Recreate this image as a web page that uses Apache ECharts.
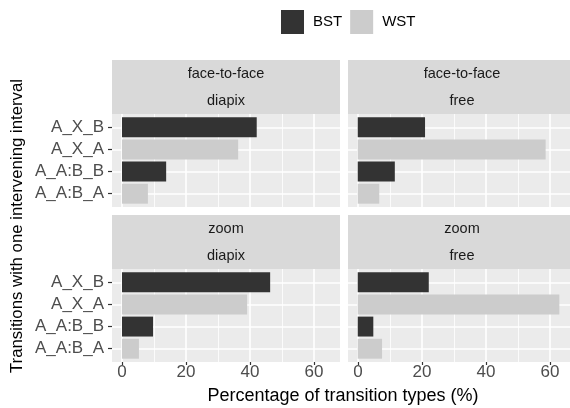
<!DOCTYPE html>
<html>
<head>
<meta charset="utf-8">
<script src="https://cdn.jsdelivr.net/npm/echarts@6/dist/echarts.min.js"></script>
<style>
html,body{margin:0;padding:0;background:#fff;}
#chart{width:570px;height:408px;}
</style>
</head>
<body>
<div id="chart"></div>
<script>
// ---- data ----
const categories = ['A_X_B', 'A_X_A', 'A_A:B_B', 'A_A:B_A'];
const transitionGroup = ['BST', 'WST', 'BST', 'WST'];
const legendNames = ['BST', 'WST'];
const rowLabels = ['face-to-face', 'zoom'];
const colLabels = ['diapix', 'free'];
const ftfDiapix = [42.1, 36.3, 13.8, 8.1];
const ftfFree = [21.6, 60.3, 11.9, 6.9];
const zoomDiapix = [46.3, 39.1, 9.7, 5.3];
const zoomFree = [22.8, 64.7, 5.0, 7.8];
const xTickMin = 0, xTickMax = 60, xTickStep = 20;
const yTitle = 'Transitions with one intervening interval';
const xTitle = 'Percentage of transition types (%)';

const panelValues = [[ftfDiapix, ftfFree], [zoomDiapix, zoomFree]];

// ---- layout ----
const FONT = '"Liberation Sans", Arial, sans-serif';
const colLeft = [112, 348];
const panelW = 228;
const rowTop = [114, 269];
const panelH = 93;
const stripTop = [60, 215];
const stripH = 54;
const xMin = -3.125, xMax = 68.125;
const pxPerUnit = panelW / (xMax - xMin);
const catInset = panelH / 4.2 * 0.1;
const colors = {BST: '#333333', WST: '#cccccc'};

const grids = [], xAxes = [], yAxes = [], series = [], graphics = [];
let k = 0;
for (let r = 0; r < 2; r++) {
  for (let c = 0; c < 2; c++) {
    const vals = panelValues[r][c];
    const bottomRow = r === 1;
    const leftCol = c === 0;
    graphics.push({type: 'rect', z: -1, shape: {x: colLeft[c], y: rowTop[r], width: panelW, height: panelH}, style: {fill: '#ebebeb'}});
    graphics.push({type: 'rect', z: -1, shape: {x: colLeft[c], y: stripTop[r], width: panelW, height: stripH}, style: {fill: '#d9d9d9'}});
    graphics.push({type: 'text', z: 5, x: colLeft[c] + panelW / 2, y: stripTop[r] + 13.5,
      style: {text: rowLabels[r], fontSize: 14.5, fill: '#1a1a1a', fontFamily: FONT, textAlign: 'center', textVerticalAlign: 'middle'}});
    graphics.push({type: 'text', z: 5, x: colLeft[c] + panelW / 2, y: stripTop[r] + 40.5,
      style: {text: colLabels[c], fontSize: 14.5, fill: '#1a1a1a', fontFamily: FONT, textAlign: 'center', textVerticalAlign: 'middle'}});

    grids.push({left: colLeft[c], top: rowTop[r] + catInset, width: panelW, height: panelH - 2 * catInset, containLabel: false});
    const zeroX = colLeft[c] + (0 - xMin) * pxPerUnit;
    grids.push({left: zeroX, top: rowTop[r], width: (xTickMax - xTickMin) * pxPerUnit, height: panelH, containLabel: false});

    xAxes.push({type: 'value', gridIndex: 2 * k, min: xMin, max: xMax, show: false});
    xAxes.push({type: 'value', gridIndex: 2 * k + 1, min: xTickMin, max: xTickMax, interval: xTickStep,
      axisLine: {show: false},
      axisTick: {show: bottomRow, length: 3, lineStyle: {color: '#333333', width: 1.2}},
      axisLabel: {show: bottomRow, fontSize: 17, color: '#4d4d4d', margin: 2, fontFamily: FONT},
      splitLine: {show: true, lineStyle: {color: '#ffffff', width: 1.6}},
      minorTick: {show: false, splitNumber: 2},
      minorSplitLine: {show: true, lineStyle: {color: '#ffffff', width: 0.8}}
    });
    yAxes.push({type: 'category', gridIndex: 2 * k, data: categories, inverse: true,
      axisLine: {show: false, onZero: false},
      axisTick: {show: leftCol, inside: false, length: 4, alignWithLabel: true, lineStyle: {color: '#333333', width: 1.2}},
      axisLabel: {show: leftCol, fontSize: 17, color: '#4d4d4d', margin: 8, fontFamily: FONT},
      splitLine: {show: false}
    });
    yAxes.push({type: 'value', gridIndex: 2 * k + 1, min: 0, max: 1, show: false});

    legendNames.forEach((g, gi) => {
      const s = {
        name: g, type: 'bar', xAxisIndex: 2 * k, yAxisIndex: 2 * k, stack: 'p' + k,
        barWidth: '90%', z: 2,
        itemStyle: {color: colors[g]},
        data: vals.map((v, i) => transitionGroup[i] === g ? v : '-')
      };
      if (gi === 0) {
        s.markLine = {z: 1, silent: true, symbol: 'none', animation: false,
          label: {show: false}, lineStyle: {color: '#ffffff', width: 1.6, type: 'solid'},
          emphasis: {disabled: true},
          data: categories.map(cat => ({yAxis: cat}))};
      }
      series.push(s);
    });
    k++;
  }
}

graphics.push({type: 'text', z: 5, x: 17, y: 226, rotation: Math.PI / 2,
  style: {text: yTitle, fontSize: 16.8, fill: '#000', fontFamily: FONT, textAlign: 'center', textVerticalAlign: 'middle'}});
graphics.push({type: 'text', z: 5, x: 343, y: 396,
  style: {text: xTitle, fontSize: 18, fill: '#000', fontFamily: FONT, textAlign: 'center', textVerticalAlign: 'middle'}});

const chart = echarts.init(document.getElementById('chart'), null, {renderer: 'canvas'});
chart.setOption({
  animation: false,
  backgroundColor: '#ffffff',
  textStyle: {fontFamily: FONT},
  legend: {data: legendNames, left: 281, top: 10, padding: 0, icon: 'rect', itemWidth: 23, itemHeight: 24, itemGap: 8,
    textStyle: {fontSize: 15, color: '#000', fontFamily: FONT, padding: [0, 0, 0, 4]}},
  grid: grids,
  xAxis: xAxes,
  yAxis: yAxes,
  series: series,
  graphic: graphics
});
</script>
</body>
</html>
